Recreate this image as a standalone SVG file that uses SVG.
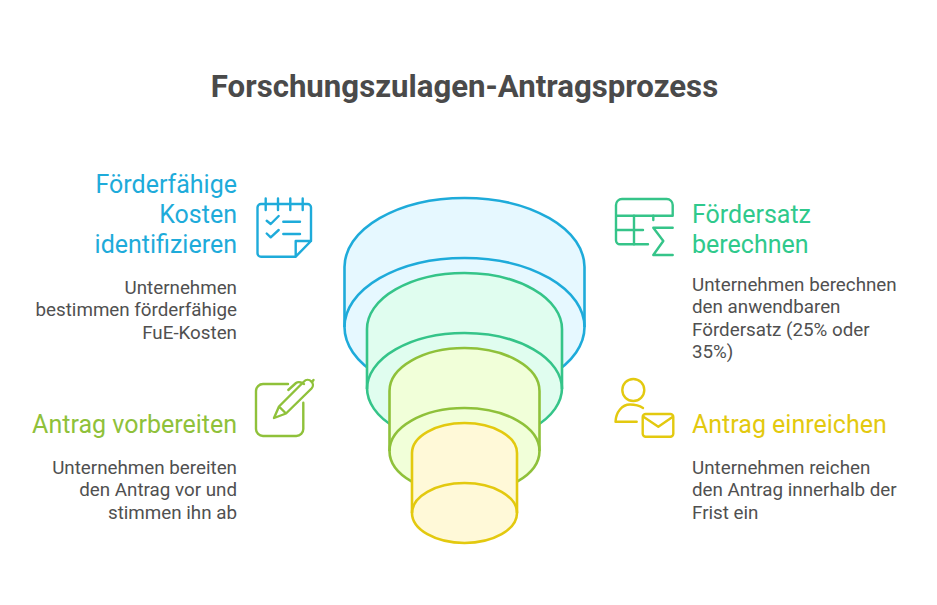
<svg xmlns="http://www.w3.org/2000/svg" width="937" height="605" viewBox="0 0 937 605">
<style>
text{font-family:Roboto,"Liberation Sans",sans-serif}
.title{font-size:31.2px;font-weight:700;fill:#4a4a4a;text-anchor:middle}
.h{font-size:25px;font-weight:400}
.b{font-size:18.8px;fill:#505050}
.e{text-anchor:end}
.s{fill:none;stroke-width:2.4;stroke-linecap:round;stroke-linejoin:round}
.c{stroke-width:2.6}
.blue{fill:#1eabda}.green{fill:#2fc98c}.lime{fill:#8fc13a}.yellow{fill:#e3c90f}
.sblue{stroke:#1eabda}.sgreen{stroke:#35c489}.slime{stroke:#8fc13a}.syellow{stroke:#e3c90f}
</style>
<rect width="937" height="605" fill="#fff"/>
<text class="title" x="464.500" y="96.500">Forschungszulagen-Antragsprozess</text>
<g id="cyl-blue" class="c sblue" fill="#e6f8ff">
<path d="M344.500 267A120 69 0 0 1 584.500 267V327A120 69 0 0 1 344.500 327Z"/>
<path d="M344.500 327A120 69 0 0 1 584.500 327" fill="none"/>
</g>
<g id="cyl-green" class="c sgreen" fill="#e0fdef">
<path d="M367 329A97.500 56 0 0 1 562 329V388A97.500 56 0 0 1 367 388Z"/>
<path d="M367 389A97.500 56 0 0 1 562 389" fill="none"/>
</g>
<g id="cyl-lime" class="c slime" fill="#f1ffd9">
<path d="M389.500 391A75 43 0 0 1 539.500 391V451A75 43 0 0 1 389.500 451Z"/>
<path d="M389.500 451A75 43 0 0 1 539.500 451" fill="none"/>
</g>
<g id="cyl-yellow" class="c syellow" fill="#fff9d8">
<path d="M412 453A52.500 30 0 0 1 517 453V513A52.500 30 0 0 1 412 513Z"/>
<path d="M412 513A52.500 30 0 0 1 517 513" fill="none"/>
</g>
<g id="node-kosten">
<text class="h e blue" x="237" y="192.500">Förderfähige</text>
<text class="h e blue" x="237" y="222.500">Kosten</text>
<text class="h e blue" x="237" y="252.500">identifizieren</text>
<text class="b e" x="237" y="293.700">Unternehmen</text>
<text class="b e" x="237" y="316.200">bestimmen förderfähige</text>
<text class="b e" x="237" y="338.700">FuE-Kosten</text>
<g class="s sblue">
<path d="M295.700 256.700H261A3.500 3.500 0 0 1 257.500 253.200V207.500A3.500 3.500 0 0 1 261 204H307.500A3.500 3.500 0 0 1 311 207.500V241L295.700 256.700V241H311"/>
<path d="M265.700 198.500V210M278 198.500V210M290.300 198.500V210M302.700 198.500V210"/>
<path d="M266.700 220.700L270.700 224L278.700 216M283.300 221.700H300M266.700 233.500L270.700 237.300L278.700 230M283.300 234H300"/>
</g>
</g>
<g id="node-foerdersatz">
<text class="h green" x="692" y="222.500">Fördersatz</text>
<text class="h green" x="692" y="252.500">berechnen</text>
<text class="b" x="692" y="290.500">Unternehmen berechnen</text>
<text class="b" x="692" y="313">den anwendbaren</text>
<text class="b" x="692" y="335.500">Fördersatz (25% oder</text>
<text class="b" x="692" y="358">35%)</text>
<g class="s sgreen">
<path d="M648 244.300H620A4 4 0 0 1 616 240.300V205A6 6 0 0 1 622 199H666.700A6 6 0 0 1 672.700 205V215.700H616"/>
<path d="M616 230H643M634 215.700V244.300M653.300 215.700V220"/>
<path d="M672.700 227.700H653.300L663.300 241L653.300 255H672.700"/>
</g>
</g>
<g id="node-vorbereiten">
<text class="h e lime" x="237" y="432.500">Antrag vorbereiten</text>
<text class="b e" x="237" y="473.800">Unternehmen bereiten</text>
<text class="b e" x="237" y="496.300">den Antrag vor und</text>
<text class="b e" x="237" y="518.800">stimmen ihn ab</text>
<g class="s slime">
<path d="M288 384H263A7 7 0 0 0 256 391V429A7 7 0 0 0 263 436H296.300A7 7 0 0 0 303.300 429V402.700"/>
<path d="M274 418L279 406.500L304 381.500A4.500 4.500 0 0 1 311.500 388.500L286 413.500ZM279 406.500L286 413.500"/>
<path d="M288.300 390L296 383Q298 381.500 301 382.500L304 384M312 382L313.500 380"/>
</g>
</g>
<g id="node-einreichen">
<text class="h yellow" x="692" y="432.500">Antrag einreichen</text>
<text class="b" x="692" y="473.800">Unternehmen reichen</text>
<text class="b" x="692" y="496.300">den Antrag innerhalb der</text>
<text class="b" x="692" y="518.800">Frist ein</text>
<g class="s syellow">
<circle cx="633.300" cy="390" r="11"/>
<path d="M636.700 421.700H615.500C616 412 622 404.500 630 404.500C635 404.500 640 406 643 408"/>
<rect x="642.700" y="414" width="30.600" height="22.700" rx="3"/>
<path d="M643.800 417L658.300 426.700L672.500 417"/>
</g>
</g>
</svg>
